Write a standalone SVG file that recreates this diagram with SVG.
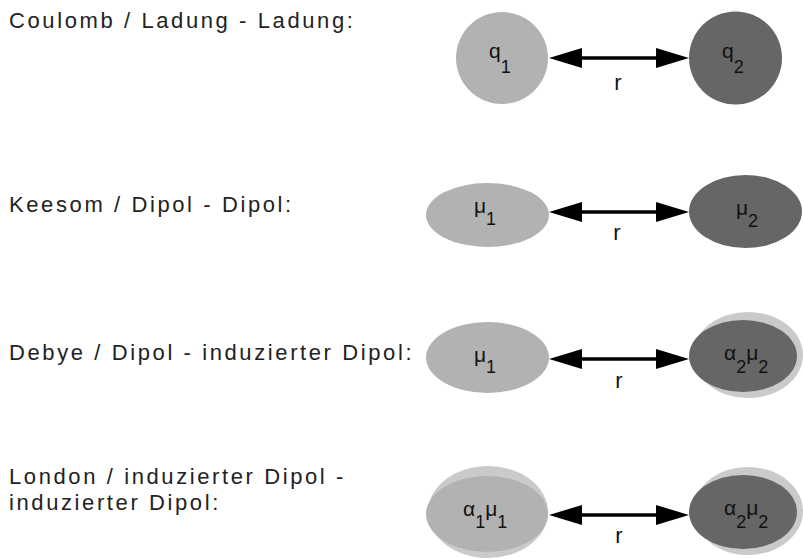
<svg xmlns="http://www.w3.org/2000/svg" width="803" height="559" viewBox="0 0 803 559">
<style>
.lbl{font-family:"Liberation Sans",Arial,sans-serif;font-size:22px;fill:#222;letter-spacing:2.6px}
.nl{font-family:"Liberation Sans",Arial,sans-serif;font-size:21px;fill:#111}
.sub{font-size:18px}
.r{font-family:"Liberation Sans",Arial,sans-serif;font-size:22px;fill:#111;text-anchor:middle}
.light{fill:#b2b2b2}
.dark{fill:#666666}
.outer{fill:#cacaca}
.conn{stroke:#000;stroke-width:3.5;fill:none;marker-start:url(#ah);marker-end:url(#ah)}
</style>
<defs>
<marker id="ah" viewBox="0 0 33 20" markerWidth="33" markerHeight="20" refX="27" refY="10" orient="auto-start-reverse" markerUnits="userSpaceOnUse">
<path d="M0,0 L33,10 L0,20 Z" fill="#000"/>
</marker>
</defs>
<rect width="803" height="559" fill="#fff"/>

<g id="labels">
<text class="lbl" x="9" y="28">Coulomb / Ladung - Ladung:</text>
<text class="lbl" x="9" y="212">Keesom / Dipol - Dipol:</text>
<text class="lbl" x="9" y="360">Debye / Dipol - induzierter Dipol:</text>
<text class="lbl" x="9" y="484">London / induzierter Dipol -</text>
<text class="lbl" x="9" y="510">induzierter Dipol:</text>
</g>

<g id="connectors">
<line class="conn" x1="555" y1="58" x2="683" y2="58"/>
<text class="r" x="618" y="90">r</text>
<line class="conn" x1="555" y1="212" x2="683" y2="212"/>
<text class="r" x="617" y="240">r</text>
<line class="conn" x1="555" y1="359" x2="683" y2="359"/>
<text class="r" x="619" y="388">r</text>
<line class="conn" x1="555" y1="515" x2="683" y2="515"/>
<text class="r" x="619" y="543">r</text>
</g>

<g id="q1">
<circle class="light" cx="502" cy="58" r="46"/>
<text class="nl" x="489" y="58">q<tspan class="sub" dy="15">1</tspan></text>
</g>
<g id="q2">
<circle class="dark" cx="735.5" cy="58" r="46.5"/>
<text class="nl" x="722" y="58">q<tspan class="sub" dy="15">2</tspan></text>
</g>

<g id="mu1-keesom">
<ellipse class="light" cx="487.5" cy="215" rx="61.5" ry="32"/>
<text class="nl" x="474" y="213">μ<tspan class="sub" dy="12">1</tspan></text>
</g>
<g id="mu2-keesom">
<ellipse class="dark" cx="745.5" cy="211.5" rx="56.5" ry="36.5"/>
<text class="nl" x="736" y="215">μ<tspan class="sub" dy="12">2</tspan></text>
</g>

<g id="mu1-debye">
<ellipse class="light" cx="487.5" cy="357.5" rx="61.5" ry="35.5"/>
<text class="nl" x="474" y="362">μ<tspan class="sub" dy="11">1</tspan></text>
</g>
<g id="a2mu2-debye">
<ellipse class="outer" cx="748" cy="355" rx="55" ry="43"/>
<ellipse class="dark" cx="743" cy="356" rx="54" ry="36"/>
<text class="nl" x="724" y="360">α<tspan class="sub" dy="13">2</tspan><tspan dy="-13">μ</tspan><tspan class="sub" dy="13">2</tspan></text>
</g>

<g id="a1mu1-london">
<ellipse class="outer" cx="488" cy="512" rx="60" ry="46"/>
<ellipse class="light" cx="487" cy="514" rx="61" ry="38"/>
<text class="nl" x="463" y="516">α<tspan class="sub" dy="12">1</tspan><tspan dy="-12">μ</tspan><tspan class="sub" dy="12">1</tspan></text>
</g>
<g id="a2mu2-london">
<ellipse class="outer" cx="748" cy="511" rx="55" ry="44"/>
<ellipse class="dark" cx="743" cy="512" rx="54" ry="37"/>
<text class="nl" x="724" y="515">α<tspan class="sub" dy="13">2</tspan><tspan dy="-13">μ</tspan><tspan class="sub" dy="13">2</tspan></text>
</g>
</svg>
